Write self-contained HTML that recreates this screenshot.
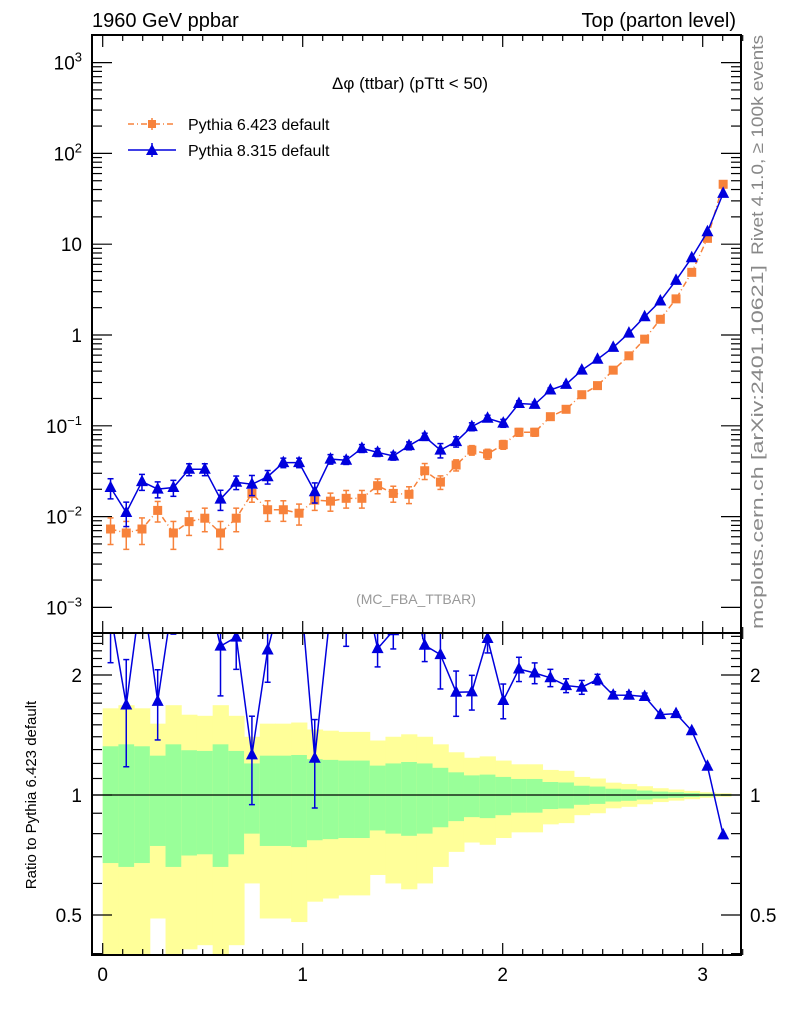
<!DOCTYPE html>
<html><head><meta charset="utf-8"><style>
html,body{margin:0;padding:0;background:#fff}
svg{display:block;font-family:"Liberation Sans",sans-serif}
</style></head><body>
<svg id="chart" width="786" height="1024" viewBox="0 0 786 1024" xmlns="http://www.w3.org/2000/svg">
<defs>
<clipPath id="clipMain"><rect x="92" y="35" width="649" height="598"/></clipPath>
<clipPath id="clipRatio"><rect x="92" y="633" width="649" height="322"/></clipPath>
</defs>
<g id="bands" clip-path="url(#clipRatio)"></g>
<g id="ticks"></g>
<line x1="92" y1="795" x2="741" y2="795" stroke="#000" stroke-width="1.3"/>
<g id="mainMarks" clip-path="url(#clipMain)"></g>
<g id="ratioMarks" clip-path="url(#clipRatio)"></g>
<rect x="92" y="35" width="649" height="598" fill="none" stroke="#000" stroke-width="2"/>
<rect x="92" y="633" width="649" height="322" fill="none" stroke="#000" stroke-width="2"/>

<text x="92" y="27" font-size="20">1960 GeV ppbar</text>
<text x="736" y="27" font-size="20" text-anchor="end">Top (parton level)</text>
<text x="410" y="89" font-size="17" text-anchor="middle">Δφ (ttbar) (pTtt &lt; 50)</text>
<text x="416" y="604" font-size="14" fill="#999" text-anchor="middle">(MC_FBA_TTBAR)</text>

<g>
<g>
<line x1="128" y1="124" x2="176" y2="124" stroke="#f7823b" stroke-width="1.5" stroke-dasharray="6,3,1,3"/>
<line x1="152" y1="118" x2="152" y2="130" stroke="#f7823b" stroke-width="1.5"/>
<rect x="148" y="120" width="8" height="8" fill="#f7823b"/>
<text x="188" y="130" font-size="16">Pythia 6.423 default</text>
</g>
<g>
<line x1="128" y1="150" x2="176" y2="150" stroke="#0000dd" stroke-width="1.5"/>
<line x1="152" y1="143" x2="152" y2="157" stroke="#0000dd" stroke-width="1.5"/>
<polygon points="152,144 158,155 146,155" fill="#0000dd"/>
<text x="188" y="156" font-size="16">Pythia 8.315 default</text>
</g>
</g>

<text transform="translate(763,145) rotate(-90)" font-size="17" fill="#888" text-anchor="middle" textLength="220" lengthAdjust="spacingAndGlyphs">Rivet 4.1.0, ≥ 100k events</text>
<text transform="translate(763,447) rotate(-90)" font-size="17" fill="#888" text-anchor="middle" textLength="364" lengthAdjust="spacingAndGlyphs">mcplots.cern.ch [arXiv:2401.10621]</text>
<text transform="translate(36,795) rotate(-90)" font-size="15" text-anchor="middle">Ratio to Pythia 6.423 default</text>
<g id="labels"></g>
</svg>
<script>
const xEdgesCount = 40;
const xTickLabels = ["0","1","2","3"];
const mainYDecades = [-3,-2,-1,0,1,2,3];
const ratioTickValues = [0.5,1,2];
const pythia6 = [0.0073,0.0066,0.0073,0.0117,0.0066,0.0088,0.0096,0.0066,0.0096,0.018,
0.0119,0.0119,0.0109,0.0152,0.0148,0.0159,0.0159,0.0219,0.018,0.0176,
0.032,0.024,0.037,0.054,0.049,0.062,0.085,0.085,0.126,0.152,
0.22,0.277,0.41,0.59,0.90,1.49,2.5,4.9,11.6,45.7];
const pythia8 = [0.0209,0.0111,0.0243,0.0201,0.0209,0.0332,0.0332,0.0156,0.0239,0.0227,
0.0275,0.0393,0.0393,0.0188,0.043,0.0417,0.0565,0.051,0.0465,0.0604,
0.076,0.054,0.067,0.098,0.121,0.107,0.176,0.172,0.248,0.286,
0.41,0.54,0.73,1.05,1.59,2.37,4.0,7.1,13.7,36.3];
const errPythia6 = [0.325,0.34,0.325,0.255,0.34,0.295,0.29,0.34,0.29,0.2,
0.255,0.255,0.26,0.23,0.225,0.22,0.22,0.185,0.2,0.21,
0.2,0.17,0.14,0.12,0.125,0.11,0.097,0.097,0.078,0.075,
0.055,0.05,0.037,0.033,0.026,0.02,0.016,0.012,0.008,0.005];
const errPythia8 = [0.25,0.3,0.2,0.2,0.2,0.15,0.15,0.25,0.17,0.25,
0.17,0.12,0.12,0.25,0.12,0.1,0.1,0.1,0.1,0.1,
0.09,0.18,0.13,0.1,0.08,0.1,0.07,0.06,0.05,0.04,
0.04,0.03,0.02,0.02,0.02,0.012,0.01,0.008,0.006,0.004];

const NS="http://www.w3.org/2000/svg";
const X0=102.7, XS=200, XMAX=Math.PI;
const X=v=>X0+XS*v;
const YM=v=>335-90.8*Math.log10(v);
const YR=r=>795-398.6*Math.log10(r);
const bw=XMAX/xEdgesCount;
function mk(tag,attrs,parent){const e=document.createElementNS(NS,tag);for(const k in attrs)e.setAttribute(k,attrs[k]);parent.appendChild(e);return e;}
const bands=document.getElementById('bands');
const ticks=document.getElementById('ticks');
const labels=document.getElementById('labels');
const mm=document.getElementById('mainMarks');
const rm=document.getElementById('ratioMarks');

for(let i=0;i<xEdgesCount;i++){
  const e=errPythia6[i], x1=X(i*bw), x2=X((i+1)*bw);
  const lo2=Math.max(1-2*e,0.3), hi2=1+2*e, lo1=1-e, hi1=1+e;
  const y=mk('rect',{x:x1,y:YR(hi2),width:x2-x1+0.5,height:YR(lo2)-YR(hi2),fill:'#ffff99'},bands);
  
  
  const g=mk('rect',{x:x1,y:YR(hi1),width:x2-x1+0.5,height:YR(lo1)-YR(hi1),fill:'#99ff99'},bands);
  
  
}

for(let k=-0.0;k<=3.2;k=Math.round((k+0.1)*10)/10){
  const major=Math.abs(k-Math.round(k))<1e-6;
  const L=major?12:6;
  const xx=X(k);
  [[955,-1],[633,1],[633,-1],[35,1]].forEach(([y0,d])=>{
    mk('line',{x1:xx,x2:xx,y1:y0,y2:y0+d*L,stroke:'#000','stroke-width':1.2},ticks);
  });
}
xTickLabels.forEach((t,i)=>{
  const el=mk('text',{x:X(i),y:981,'font-size':19,'text-anchor':'middle'},labels);
  el.textContent=t;
  
  
});
mainYDecades.forEach(d=>{
  for(let m=1;m<10;m++){
    const v=m*Math.pow(10,d), yy=YM(v);
    if(yy<35||yy>633)continue;
    const L=m==1?20:10;
    mk('line',{x1:92,x2:92+L,y1:yy,y2:yy,stroke:'#000','stroke-width':1.2},ticks);
    mk('line',{x1:741,x2:741-L,y1:yy,y2:yy,stroke:'#000','stroke-width':1.2},ticks);
  }
  const yy=YM(Math.pow(10,d));
  let el;
  if(d==0||d==1){
    el=mk('text',{x:82,y:yy+7,'font-size':19,'text-anchor':'end'},labels);
    el.textContent=d==0?"1":"10";
  } else {
    el=mk('text',{x:82,y:yy+7,'font-size':19,'text-anchor':'end'},labels);
    const a=document.createElementNS(NS,'tspan');a.textContent="10";el.appendChild(a);
    const b=document.createElementNS(NS,'tspan');b.setAttribute('dy','-8');b.setAttribute('font-size','13');b.textContent=(d<0?"−":"")+Math.abs(d);el.appendChild(b);
  }
  
  
});
for(let r=0.4;r<=2.56;r=Math.round((r+0.1)*10)/10){
  const yy=YR(r);
  if(yy<634||yy>954)continue;
  const major=ratioTickValues.some(v=>Math.abs(v-r)<1e-6);
  const L=major?20:10;
  mk('line',{x1:92,x2:92+L,y1:yy,y2:yy,stroke:'#000','stroke-width':1.2},ticks);
  mk('line',{x1:741,x2:741-L,y1:yy,y2:yy,stroke:'#000','stroke-width':1.2},ticks);
}
ratioTickValues.forEach(v=>{
  const t=v==0.5?"0.5":String(v);
  const a=mk('text',{x:82,y:YR(v)+7,'font-size':19,'text-anchor':'end'},labels);a.textContent=t;
  
  
  const b=mk('text',{x:750,y:YR(v)+7,'font-size':19},labels);b.textContent=t;
  
  
});

function drawSeries(parent,vals,errs,yf,color,dash,marker,name){
  const pts=vals.map((v,i)=>[X((i+0.5)*bw),yf(v)]);
  const pl=mk('polyline',{points:pts.map(p=>p.join(',')).join(' '),fill:'none',stroke:color,'stroke-width':1.5},parent);
  if(dash)pl.setAttribute('stroke-dasharray',dash);
  
  
  vals.forEach((v,i)=>{
    const x=pts[i][0], y=pts[i][1];
    const yt=yf(v*(1+errs[i])), yb=yf(Math.max(v*(1-errs[i]),1e-9));
    const g=mk('g',{stroke:color,'stroke-width':1.5},parent);
    
    
    mk('line',{x1:x,x2:x,y1:yt,y2:yb},g);
    mk('line',{x1:x-3,x2:x+3,y1:yt,y2:yt},g);
    mk('line',{x1:x-3,x2:x+3,y1:yb,y2:yb},g);
    let m;
    if(marker=='sq') m=mk('rect',{x:x-4.5,y:y-4.5,width:9,height:9,fill:color},parent);
    else m=mk('polygon',{points:`${x},${y-7} ${x+6},${y+4.5} ${x-6},${y+4.5}`,fill:color},parent);
    
    
  });
}
drawSeries(mm,pythia6,errPythia6,YM,'#f7823b','6,3,1,3','sq','pythia6');
drawSeries(mm,pythia8,errPythia8,YM,'#0000dd',null,'tri','pythia8');
const ratio=pythia8.map((v,i)=>v/pythia6[i]);
drawSeries(rm,ratio,errPythia8,YR,'#0000dd',null,'tri','ratio-pythia8');
</script>
</body></html>
